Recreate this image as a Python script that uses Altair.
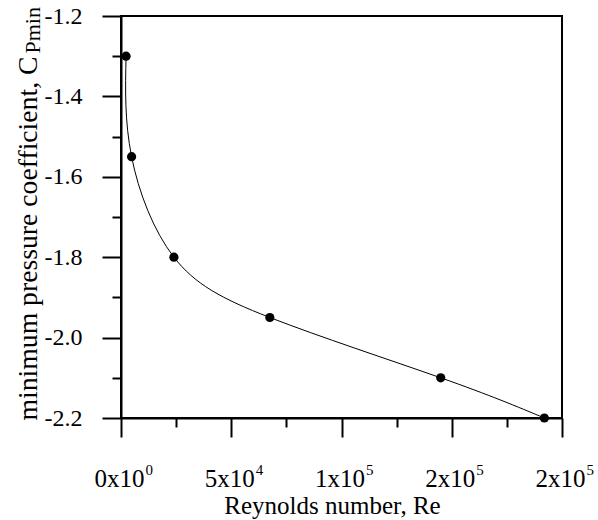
import altair as alt
import pandas as pd

# data
re_values = [2300, 4800, 24000, 67500, 145000, 192000]
cp_values = [-1.30, -1.55, -1.80, -1.95, -2.10, -2.20]

x_tick_values = [0, 25000, 50000, 75000, 100000, 125000, 150000, 175000, 200000]
x_label_bases = ["0x10", "5x10", "1x10", "2x10", "2x10"]
x_label_exps = ["0", "4", "5", "5", "5"]
y_tick_values = [-2.2, -2.1, -2.0, -1.9, -1.8, -1.7, -1.6, -1.5, -1.4, -1.3, -1.2]

df = pd.DataFrame({"Re": re_values, "Cp": cp_values})

FONT = "Liberation Serif"


def arr(items):
    return "[" + ",".join('"%s"' % s for s in items) + "]"


X_MAJOR = "datum.value % 50000 === 0"
Y_MAJOR = "round(datum.value * 10) % 2 === 0"
x_tick_size = {"condition": {"test": X_MAJOR, "value": 19}, "value": 9}
y_tick_size = {"condition": {"test": Y_MAJOR, "value": 19}, "value": 9}
x_scale = alt.Scale(domain=[0, 200000], nice=False, zero=False)
y_scale = alt.Scale(domain=[-2.2, -1.2], nice=False, zero=False)

x_axis_main = alt.Axis(
    orient="bottom",
    values=x_tick_values,
    labelExpr=f"{X_MAJOR} ? {arr(x_label_bases)}[round(datum.value / 50000)] : ''",
    tickSize=x_tick_size,
    labelFontSize=25,
    labelPadding=29,
    labelOffset=-2,
    title="Reynolds number, Re",
    titleFontSize=25,
    titleX=211,
    titleY=95,
    titleAlign="center",
    titleBaseline="alphabetic",
)

x_axis_exp = alt.Axis(
    orient="bottom",
    values=x_tick_values,
    labelExpr=f"{X_MAJOR} ? {arr(x_label_exps)}[round(datum.value / 50000)] : ''",
    tickSize=x_tick_size,
    tickOpacity=0,
    domain=False,
    labelFontSize=15,
    labelPadding=25,
    labelAlign="left",
    labelOffset=24,
    title=None,
)

y_axis_main = alt.Axis(
    orient="left",
    values=y_tick_values,
    labelExpr=f"{Y_MAJOR} ? replace(format(datum.value, '.1f'), '\u2212', '-') : ''",
    tickSize=y_tick_size,
    labelFontSize=24,
    labelPadding=20,
    title="minimum pressure coefficient, C",
    titleFontSize=27.7,
    titleAngle=270,
    titleX=-85,
    titleY=404,
    titleAlign="left",
    titleBaseline="alphabetic",
)

y_axis_sub = alt.Axis(
    orient="left",
    values=y_tick_values,
    domain=False,
    ticks=False,
    labels=False,
    title="Pmin",
    titleFontSize=22,
    titleAngle=270,
    titleX=-82,
    titleY=37,
    titleAlign="left",
    titleBaseline="alphabetic",
)

line = alt.Chart(df).mark_line(color="black", strokeWidth=1, interpolate="natural").encode(
    x=alt.X("Re:Q", scale=x_scale, axis=x_axis_main),
    y=alt.Y("Cp:Q", scale=y_scale, axis=y_axis_main),
)
pts = alt.Chart(df).mark_circle(color="black", opacity=1, size=85).encode(
    x=alt.X("Re:Q", scale=x_scale, axis=x_axis_exp),
    y=alt.Y("Cp:Q", scale=y_scale, axis=y_axis_sub),
)

chart = (
    alt.layer(line, pts)
    .resolve_axis(x="independent", y="independent")
    .properties(
        width=441,
        height=402,
        autosize=alt.AutoSizeParams(type="none"),
        padding={"left": 121, "top": 16, "right": 36, "bottom": 102},
        background="white",
    )
    .configure_view(stroke="black", strokeWidth=2)
    .configure_axis(
        labelFont=FONT,
        labelColor="black",
        labelFlush=False,
        labelOverlap=False,
        labelBound=False,
        tickWidth=2,
        tickColor="black",
        domainColor="black",
        domainWidth=2,
        grid=False,
        titleFont=FONT,
        titleFontWeight="normal",
        titleColor="black",
    )
)

chart.save("out.html", embed_options={"renderer": "svg", "actions": False})
